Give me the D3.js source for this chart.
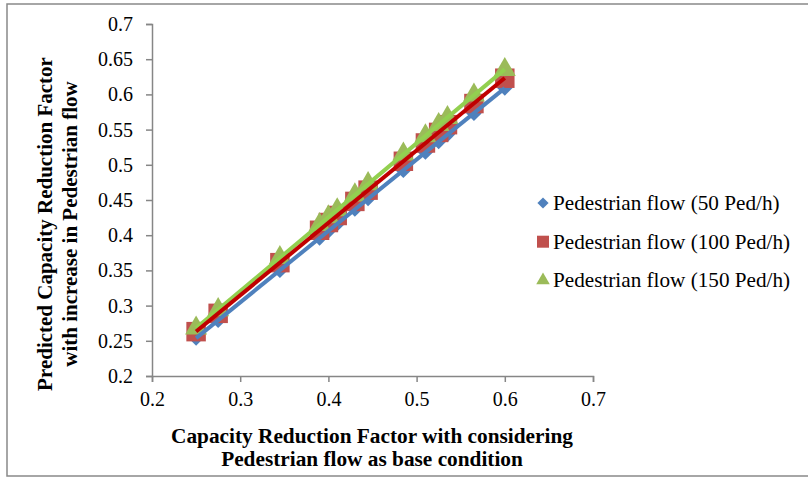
<!DOCTYPE html>
<html>
<head>
<meta charset="utf-8">
<script src="https://cdn.jsdelivr.net/npm/d3@7"></script>
<style>
  html, body { margin: 0; padding: 0; background: #fff; }
  svg text { font-family: "Liberation Serif", "Times New Roman", serif; fill: #000; }
</style>
</head>
<body>
<div id="chart"></div>
<script>
// base-condition reduction factor (x)
const baseFactor = [0.25, 0.275, 0.345, 0.39, 0.40, 0.41, 0.43, 0.445, 0.485, 0.51, 0.525, 0.535, 0.565, 0.60];
// predicted reduction factor per pedestrian flow (y)
const flow50  = [0.254, 0.279, 0.350, 0.396, 0.406, 0.416, 0.437, 0.452, 0.492, 0.518, 0.533, 0.543, 0.573, 0.609];
const flow100 = [0.263, 0.289, 0.361, 0.407, 0.418, 0.428, 0.448, 0.464, 0.505, 0.531, 0.546, 0.557, 0.587, 0.623];
const flow150 = [0.268, 0.294, 0.368, 0.415, 0.426, 0.436, 0.457, 0.473, 0.515, 0.541, 0.557, 0.567, 0.599, 0.635];
const seriesNames = ['Pedestrian flow (50 Ped/h)', 'Pedestrian flow (100 Ped/h)', 'Pedestrian flow (150 Ped/h)'];
const xTicks = [0.2, 0.3, 0.4, 0.5, 0.6, 0.7];
const yTicks = [0.2, 0.25, 0.3, 0.35, 0.4, 0.45, 0.5, 0.55, 0.6, 0.65, 0.7];

const W = 808, H = 477;
const svg = d3.select('#chart').append('svg')
  .attr('width', W).attr('height', H);

// chart frame
svg.append('rect')
  .attr('x', 7).attr('y', 4).attr('width', 840).attr('height', 472)
  .attr('fill', '#fff').attr('stroke', '#898989').attr('stroke-width', 1.5);

const x = d3.scaleLinear().domain([0.2, 0.7]).range([152, 593]);
const y = d3.scaleLinear().domain([0.2, 0.7]).range([376, 24]);

const fmt = d => String(+d.toFixed(2));

// axes
const gx = svg.append('g')
  .attr('transform', `translate(0,${y(0.2)})`)
  .call(d3.axisBottom(x).tickValues(xTicks).tickFormat(fmt).tickSizeOuter(0).tickSize(6).tickPadding(10));
const gy = svg.append('g')
  .attr('transform', `translate(${x(0.2)},0)`)
  .call(d3.axisLeft(y).tickValues(yTicks).tickFormat(fmt).tickSizeOuter(0).tickSize(6).tickPadding(13));
[gx, gy].forEach(g => {
  g.select('.domain').attr('stroke', '#868686').attr('stroke-width', 1.5);
  g.selectAll('.tick line').attr('stroke', '#868686').attr('stroke-width', 1.5);
  g.selectAll('.tick text').attr('font-family', '"Liberation Serif", serif').attr('font-size', 20).attr('fill', '#000');
});

const series = [
  { name: seriesNames[0], values: flow50,  marker: d3.symbolDiamond2, size: 150, fill: '#4F81BD', line: '#4F81BD' },
  { name: seriesNames[1], values: flow100, marker: d3.symbolSquare,  size: 380, fill: '#C0504D', line: '#C00000' },
  { name: seriesNames[2], values: flow150, marker: d3.symbolTriangle, size: 210, fill: '#9BBB59', line: '#92D050' }
];

// markers
series.forEach(s => {
  svg.append('g').selectAll('path')
    .data(baseFactor.map((b, i) => [b, s.values[i]]))
    .join('path')
    .attr('transform', d => `translate(${x(d[0])},${y(d[1])})`)
    .attr('d', d3.symbol().type(s.marker).size(s.size))
    .attr('fill', s.fill);
});

// linear trend lines fitted from each series
function fit(xs, ys) {
  const mx = d3.mean(xs), my = d3.mean(ys);
  const b = d3.sum(xs, (v, i) => (v - mx) * (ys[i] - my)) / d3.sum(xs, v => (v - mx) * (v - mx));
  return { b, a: my - b * mx };
}
const xr = d3.extent(baseFactor);
[series[0], series[2], series[1]].forEach(s => {
  const f = fit(baseFactor, s.values);
  svg.append('path')
    .datum(xr.map(v => [v, f.a + f.b * v]))
    .attr('fill', 'none')
    .attr('stroke', s.line)
    .attr('stroke-width', 4)
    .attr('d', d3.line().x(d => x(d[0])).y(d => y(d[1])));
});

// axis titles
const xt = svg.append('text')
  .attr('text-anchor', 'middle').attr('font-weight', 'bold').attr('font-size', 21.3);
xt.append('tspan').attr('x', 372).attr('y', 443).text('Capacity Reduction Factor with considering');
xt.append('tspan').attr('x', 372).attr('y', 466).text('Pedestrian flow as base condition');

const yt = svg.append('text')
  .attr('transform', 'translate(0,224) rotate(-90)')
  .attr('text-anchor', 'middle').attr('font-weight', 'bold').attr('font-size', 21);
yt.append('tspan').attr('x', 0).attr('y', 52).text('Predicted Capacity Reduction Factor');
yt.append('tspan').attr('x', 0).attr('y', 77).text('with increase in Pedestrian flow');

// legend
const legend = svg.append('g');
series.forEach((s, i) => {
  const ly = 203 + i * 38.7;
  legend.append('path')
    .attr('transform', `translate(543,${ly})`)
    .attr('d', d3.symbol().type(s.marker).size(i === 1 ? 144 : (i === 0 ? 80 : 80)))
    .attr('fill', s.fill);
  legend.append('text')
    .attr('x', 553).attr('y', ly + 7)
    .attr('font-size', 21.2)
    .text(s.name);
});
</script>
</body>
</html>
